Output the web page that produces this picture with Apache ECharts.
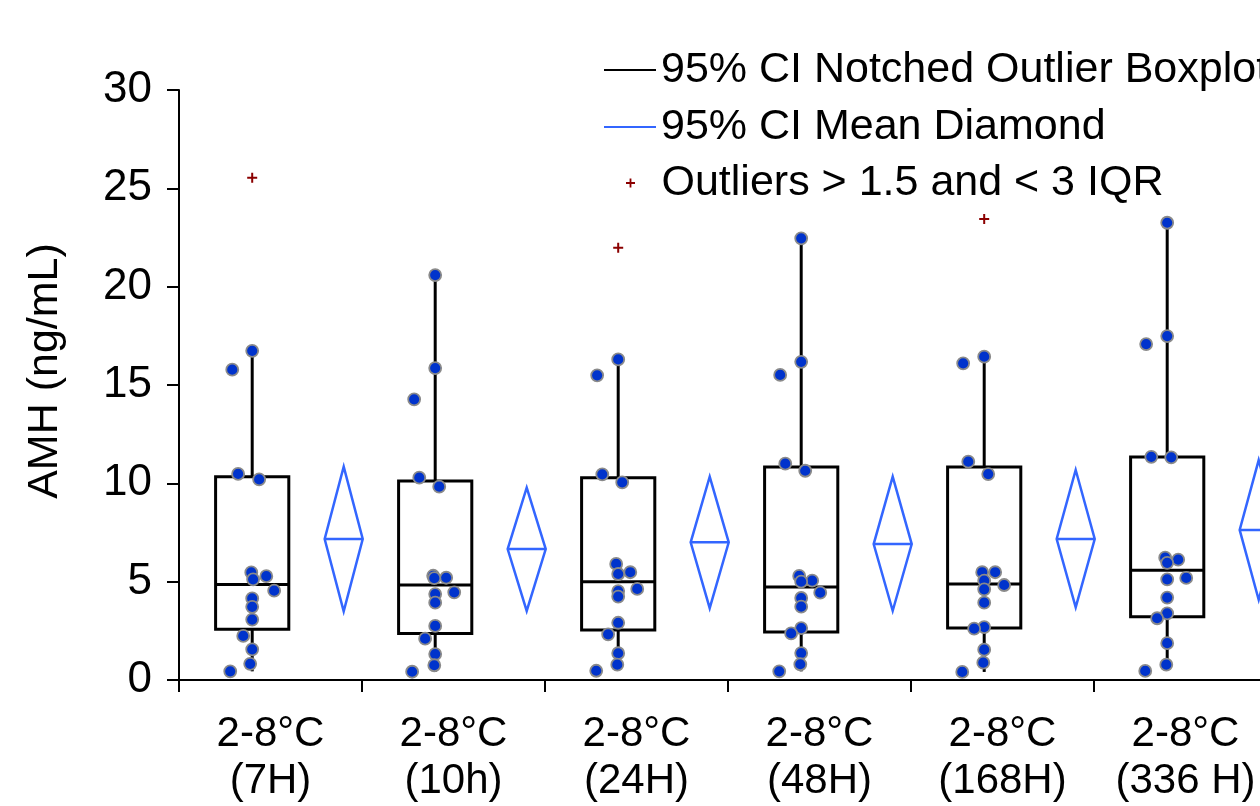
<!DOCTYPE html>
<html>
<head>
<meta charset="utf-8">
<title>AMH boxplot</title>
<script src="https://cdn.jsdelivr.net/npm/echarts@6/dist/echarts.min.js"></script>
<style>
  html, body { margin: 0; padding: 0; background: #fff; }
  #chart { width: 1260px; height: 806px; }
</style>
</head>
<body>
<div id="chart"></div>
<script>
// categories along the x axis
const categories = ["2-8°C\n(7H)", "2-8°C\n(10h)", "2-8°C\n(24H)", "2-8°C\n(48H)", "2-8°C\n(168H)", "2-8°C\n(336 H)"];
const yTicks = { min: 0, max: 30, step: 5 };

// individual observations per group (ng/mL), outliers kept apart
const points7h = [16.74, 15.78, 10.48, 10.2, 5.47, 5.28, 5.12, 4.54, 4.15, 3.72, 3.07, 2.24, 1.56, 0.82, 0.44];
const points10h = [20.59, 15.86, 14.27, 10.29, 9.83, 5.3, 5.2, 5.18, 4.46, 4.37, 3.93, 2.75, 2.1, 1.32, 0.75, 0.42];
const points24h = [16.3, 15.49, 10.46, 10.05, 5.9, 5.48, 5.39, 4.63, 4.52, 4.24, 2.91, 2.32, 1.36, 0.78, 0.47];
const points48h = [22.46, 16.18, 15.51, 11.0, 10.64, 5.29, 5.05, 5.0, 4.44, 4.17, 3.73, 2.64, 2.37, 1.37, 0.8, 0.44];
const points168h = [16.44, 16.1, 11.1, 10.47, 5.48, 5.48, 5.05, 4.83, 4.61, 3.93, 2.69, 2.61, 1.54, 0.88, 0.41];
const points336h = [23.25, 17.49, 17.08, 11.35, 11.32, 6.22, 6.12, 5.96, 5.19, 5.12, 4.19, 3.39, 3.14, 1.87, 0.78, 0.46];

const outlierGroup = [0, 2, 4];
const outlierValue = [25.54, 21.98, 23.44];

// boxplot statistics
const whiskerLow = [0.44, 0.42, 0.47, 0.44, 0.41, 0.46];
const q1 = [2.58, 2.37, 2.54, 2.44, 2.64, 3.22];
const median = [4.86, 4.83, 5.0, 4.73, 4.88, 5.58];
const q3 = [10.34, 10.12, 10.29, 10.83, 10.83, 11.34];
const whiskerHigh = [16.74, 20.59, 16.3, 22.46, 16.44, 23.25];

// 95% CI of the mean
const ciLow = [3.49, 3.51, 3.65, 3.52, 3.7, 4.08];
const meanValue = [7.17, 6.66, 7.0, 6.91, 7.17, 7.63];
const ciHigh = [10.85, 9.78, 10.34, 10.34, 10.68, 11.18];

// layout only: horizontal jitter of the dots, in fractions of a category
const jitter7h = [0, -0.109, -0.077, 0.038, -0.005, 0.077, 0.005, 0.12, 0, 0, 0, -0.049, 0, -0.011, -0.12];
const jitter10h = [0, 0, -0.115, -0.087, 0.022, -0.011, 0.06, -0.005, 0.104, 0, 0, 0, -0.055, 0, -0.005, -0.126];
const jitter24h = [0, -0.115, -0.087, 0.022, -0.011, 0.066, 0, 0.104, 0, 0, 0, -0.055, 0, -0.005, -0.12];
const jitter48h = [0, 0, -0.115, -0.087, 0.022, -0.011, 0.06, 0, 0.104, 0, 0, 0, -0.055, 0, -0.005, -0.12];
const jitter168h = [0, -0.115, -0.087, 0.022, -0.011, 0.06, 0, 0.109, 0, 0, 0, -0.055, 0, -0.005, -0.12];
const jitter336h = [0, 0, -0.115, -0.087, 0.022, -0.011, 0.06, 0, 0.104, 0, 0, 0, -0.055, 0, -0.005, -0.12];

const BOX_POS = 0.4;
const BOX_WIDTH = 0.4;
const DIAMOND_POS = 0.9;
const DIAMOND_HALF = 0.104;

const FONT = "'Liberation Sans', Arial, sans-serif";
const NAME_BOX = "95% CI Notched Outlier Boxplot";
const NAME_DIAMOND = "95% CI Mean Diamond";
const NAME_OUTLIER = "Outliers > 1.5 and < 3 IQR";
const PLUS = "path://M4,0H6V4H10V6H6V10H4V6H0V4H4Z";

const groups = [points7h, points10h, points24h, points48h, points168h, points336h];
const jitters = [jitter7h, jitter10h, jitter24h, jitter48h, jitter168h, jitter336h];

const dotData = [];
groups.forEach((vals, g) => {
  vals.forEach((v, k) => dotData.push([g + BOX_POS + jitters[g][k], v]));
});

const boxData = categories.map((_, i) => [i, whiskerLow[i], q1[i], median[i], q3[i], whiskerHigh[i]]);
const diamondData = categories.map((_, i) => [i, ciLow[i], meanValue[i], ciHigh[i]]);
const outlierData = outlierGroup.map((g, k) => [g + BOX_POS, outlierValue[k]]);

function renderBox(params, api) {
  const x = api.value(0) + BOX_POS;
  const cx = api.coord([x, 0])[0];
  const yLow = api.coord([x, api.value(1)])[1];
  const yQ1 = api.coord([x, api.value(2)])[1];
  const yMed = api.coord([x, api.value(3)])[1];
  const yQ3 = api.coord([x, api.value(4)])[1];
  const yHigh = api.coord([x, api.value(5)])[1];
  const half = api.size([BOX_WIDTH, 0])[0] / 2;
  const st = { stroke: "#000", lineWidth: 3, fill: null };
  return {
    type: "group",
    children: [
      { type: "line", shape: { x1: cx, y1: yQ3, x2: cx, y2: yHigh }, style: st },
      { type: "line", shape: { x1: cx, y1: yQ1, x2: cx, y2: yLow }, style: st },
      { type: "rect", shape: { x: cx - half, y: yQ3, width: half * 2, height: yQ1 - yQ3 }, style: st },
      { type: "line", shape: { x1: cx - half, y1: yMed, x2: cx + half, y2: yMed }, style: st }
    ]
  };
}

function renderDiamond(params, api) {
  const x = api.value(0) + DIAMOND_POS;
  const [cx, yMean] = api.coord([x, api.value(2)]);
  const yLo = api.coord([x, api.value(1)])[1];
  const yHi = api.coord([x, api.value(3)])[1];
  const hw = api.size([DIAMOND_HALF, 0])[0];
  const st = { stroke: "#3366ff", lineWidth: 2.5, fill: null };
  return {
    type: "group",
    children: [
      { type: "polygon", shape: { points: [[cx, yHi], [cx + hw, yMean], [cx, yLo], [cx - hw, yMean]] }, style: st },
      { type: "line", shape: { x1: cx - hw, y1: yMean, x2: cx + hw, y2: yMean }, style: st }
    ]
  };
}

const legendText = { color: "#000", fontSize: 43, fontFamily: FONT, lineHeight: 44 };

const chart = echarts.init(document.getElementById("chart"), null, { renderer: "canvas" });
chart.setOption({
  animation: false,
  backgroundColor: "#fff",
  textStyle: { fontFamily: FONT },
  grid: { left: 179, top: 90, width: 1098, height: 590, containLabel: false, outerBoundsMode: "none" },
  legend: [
    {
      orient: "vertical",
      left: 603,
      top: 48,
      padding: 0,
      itemWidth: 52,
      itemHeight: 2,
      itemGap: 13,
      align: "left",
      data: [NAME_BOX, NAME_DIAMOND],
      textStyle: legendText
    },
    {
      orient: "vertical",
      left: 626,
      top: 161,
      padding: 0,
      itemWidth: 52,
      itemHeight: 9,
      align: "left",
      data: [NAME_OUTLIER],
      textStyle: legendText
    }
  ],
  xAxis: [
    {
      type: "category",
      data: categories,
      boundaryGap: true,
      axisLine: { lineStyle: { color: "#000", width: 2 } },
      axisTick: { show: true, length: 12, lineStyle: { color: "#000", width: 2 } },
      axisLabel: { color: "#000", fontSize: 42, fontFamily: FONT, lineHeight: 47, margin: 31, interval: 0 },
      splitLine: { show: false }
    },
    { type: "value", min: 0, max: categories.length, show: false }
  ],
  yAxis: {
    type: "value",
    min: yTicks.min,
    max: yTicks.max,
    interval: yTicks.step,
    name: "AMH (ng/mL)",
    nameLocation: "middle",
    nameGap: 112,
    nameTextStyle: { color: "#000", fontSize: 43, fontFamily: FONT, padding: [0, 0, 0, 28] },
    axisLine: { show: true, lineStyle: { color: "#000", width: 2 } },
    axisTick: { show: true, length: 12, lineStyle: { color: "#000", width: 2 } },
    axisLabel: { color: "#000", fontSize: 44, fontFamily: FONT, margin: 27 },
    splitLine: { show: false }
  },
  series: [
    {
      name: NAME_BOX, type: "line", xAxisIndex: 1, data: [], symbol: "none",
      itemStyle: { color: "#000" }, lineStyle: { color: "#000", width: 2 }
    },
    {
      name: NAME_DIAMOND, type: "line", xAxisIndex: 1, data: [], symbol: "none",
      itemStyle: { color: "#3366ff" }, lineStyle: { color: "#3366ff", width: 2.5 }
    },
    { name: NAME_BOX, type: "custom", xAxisIndex: 1, data: boxData, renderItem: renderBox, z: 2 },
    { name: NAME_DIAMOND, type: "custom", xAxisIndex: 1, data: diamondData, renderItem: renderDiamond, z: 2 },
    {
      name: "points", type: "scatter", xAxisIndex: 1, data: dotData, symbolSize: 12, z: 4,
      itemStyle: { color: "#0033cc", borderColor: "#8a8a8a", borderWidth: 1.8, opacity: 1 }
    },
    {
      name: NAME_OUTLIER, type: "scatter", xAxisIndex: 1, data: outlierData, symbol: PLUS,
      symbolSize: 10, symbolKeepAspect: true, z: 4,
      itemStyle: { color: "#8b0000", opacity: 1 }
    }
  ]
});
</script>
</body>
</html>
